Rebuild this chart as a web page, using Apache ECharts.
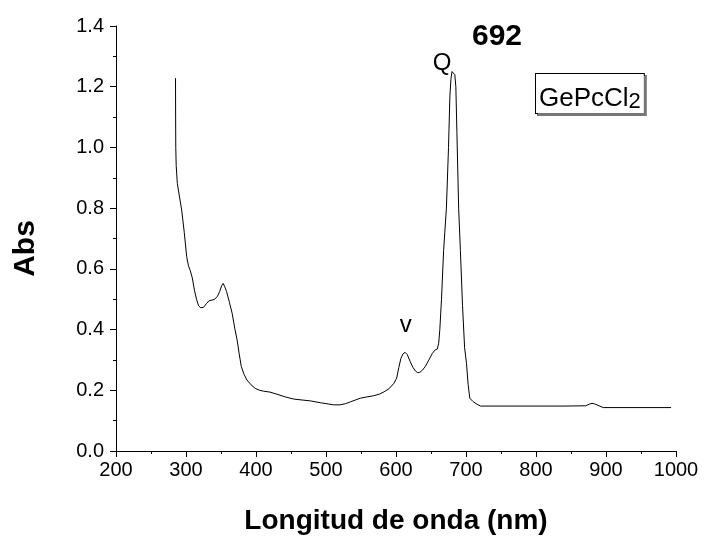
<!DOCTYPE html>
<html>
<head>
<meta charset="utf-8">
<script src="https://cdn.jsdelivr.net/npm/echarts@6/dist/echarts.min.js"></script>
<style>
  html, body { margin: 0; padding: 0; background: #fff; }
  #chart { width: 706px; height: 540px; }
</style>
</head>
<body>
<div id="chart"></div>
<script>
// Wavelength (nm) and absorbance
var wavelength = [285.0, 285.2, 285.4, 286.0, 287.6, 290.5, 293.8, 297.5, 301, 303.5, 306, 309, 312, 315, 318, 321, 325, 329, 333, 337, 341, 345, 348, 351, 353, 355, 358, 362, 366, 370, 373, 376, 379, 383, 387, 393, 399, 405, 411, 420, 430, 442, 454, 466, 478, 492, 503, 511, 520, 528, 535, 542, 549, 558, 568, 576, 583, 590, 597, 601, 604, 607, 610, 613, 616, 620, 624, 628, 631, 634, 638, 642, 647, 652, 656, 659, 661, 662.6, 665, 668, 672, 675, 677, 678.5, 680, 682, 684, 685.5, 687, 689.5, 692, 695, 698, 700.7, 703, 705.4, 710, 715, 720.7, 760, 800, 840, 871, 876, 880, 884, 890, 896, 950, 993];
var absorbance = [1.228, 1.10, 1.00, 0.94, 0.882, 0.84, 0.794, 0.72, 0.64, 0.61, 0.595, 0.57, 0.53, 0.50, 0.478, 0.472, 0.473, 0.485, 0.495, 0.497, 0.500, 0.51, 0.525, 0.545, 0.552, 0.543, 0.525, 0.49, 0.453, 0.40, 0.366, 0.32, 0.278, 0.252, 0.234, 0.218, 0.206, 0.200, 0.197, 0.194, 0.187, 0.178, 0.171, 0.168, 0.165, 0.159, 0.155, 0.152, 0.152, 0.156, 0.162, 0.168, 0.174, 0.178, 0.182, 0.187, 0.195, 0.205, 0.223, 0.24, 0.275, 0.305, 0.32, 0.325, 0.318, 0.296, 0.276, 0.263, 0.258, 0.259, 0.267, 0.279, 0.300, 0.322, 0.333, 0.336, 0.355, 0.40, 0.50, 0.66, 0.80, 1.00, 1.17, 1.225, 1.25, 1.248, 1.24, 1.20, 1.05, 0.80, 0.66, 0.48, 0.34, 0.289, 0.22, 0.174, 0.163, 0.155, 0.148, 0.148, 0.148, 0.148, 0.149, 0.154, 0.157, 0.155, 0.149, 0.143, 0.143, 0.143];

// Annotations placed in data coordinates
var annoText = ['Q', '692', 'v'];
var annoX = [666, 744.3, 614];
var annoY = [1.278, 1.366, 0.413];
var legendText = 'GePcCl';
var legendSub = '2';
var legendX = 877;
var legendY = 1.178;

var xTitle = 'Longitud de onda (nm)';
var yTitle = 'Abs';

var FONT = '"Liberation Sans", Arial, Helvetica, sans-serif';

var seriesData = wavelength.map(function (w, i) { return [w, absorbance[i]]; });

var annoStyles = [
  { fontSize: 24, fontWeight: 'normal' },
  { fontSize: 30, fontWeight: 'bold' },
  { fontSize: 24, fontWeight: 'normal' }
];

var markData = annoText.map(function (t, i) {
  return {
    coord: [annoX[i], annoY[i]],
    label: {
      show: true, position: 'inside', formatter: t, color: '#000',
      fontFamily: FONT, fontSize: annoStyles[i].fontSize, fontWeight: annoStyles[i].fontWeight
    }
  };
});
markData.push({
  coord: [legendX, legendY],
  label: {
    show: true, position: 'inside',
    formatter: '{a|' + legendText + '}{b|' + legendSub + '}',
    backgroundColor: '#fff', borderColor: '#000', borderWidth: 1,
    padding: [12, 3, 0, 3],
    shadowColor: '#777', shadowOffsetX: 2, shadowOffsetY: 2, shadowBlur: 0,
    rich: {
      a: { fontFamily: FONT, fontSize: 26, lineHeight: 9, color: '#000', verticalAlign: 'top' },
      b: { fontFamily: FONT, fontSize: 22, lineHeight: 27, color: '#000', verticalAlign: 'bottom' }
    }
  }
});

var chart = echarts.init(document.getElementById('chart'), null, { renderer: 'canvas' });
chart.setOption({
  animation: false,
  backgroundColor: '#fff',
  grid: { left: 116, right: 30, top: 26, bottom: 89, containLabel: false },
  xAxis: {
    type: 'value', min: 200, max: 1000, interval: 100,
    name: xTitle, nameLocation: 'middle', nameGap: 56,
    nameTextStyle: { fontFamily: FONT, fontSize: 28, fontWeight: 'bold', color: '#000' },
    axisLine: { show: true, onZero: false, lineStyle: { color: '#000', width: 1 } },
    axisTick: { show: true, inside: false, length: 6, lineStyle: { color: '#000' } },
    minorTick: { show: true, splitNumber: 2, length: 3, lineStyle: { color: '#000' } },
    axisLabel: { fontFamily: FONT, fontSize: 20, color: '#000', margin: 9,
      formatter: function (v) { return String(v); } },
    splitLine: { show: false }
  },
  yAxis: {
    type: 'value', min: 0, max: 1.4, interval: 0.2,
    name: yTitle, nameLocation: 'middle', nameGap: 75,
    nameTextStyle: { fontFamily: FONT, fontSize: 30, fontWeight: 'bold', color: '#000', padding: [0, 20, 0, 0] },
    axisLine: { show: true, onZero: false, lineStyle: { color: '#000', width: 1 } },
    axisTick: { show: true, inside: false, length: 6, lineStyle: { color: '#000' } },
    minorTick: { show: true, splitNumber: 2, length: 3, lineStyle: { color: '#000' } },
    axisLabel: { fontFamily: FONT, fontSize: 20, color: '#000', margin: 12,
      formatter: function (v) { return v.toFixed(1); } },
    splitLine: { show: false }
  },
  series: [{
    type: 'line',
    data: seriesData,
    showSymbol: false,
    symbol: 'none',
    smooth: false,
    lineStyle: { color: '#000', width: 1 },
    markPoint: {
      symbol: 'circle', symbolSize: 0,
      itemStyle: { color: 'transparent' },
      silent: true,
      data: markData
    }
  }]
});
</script>
</body>
</html>
